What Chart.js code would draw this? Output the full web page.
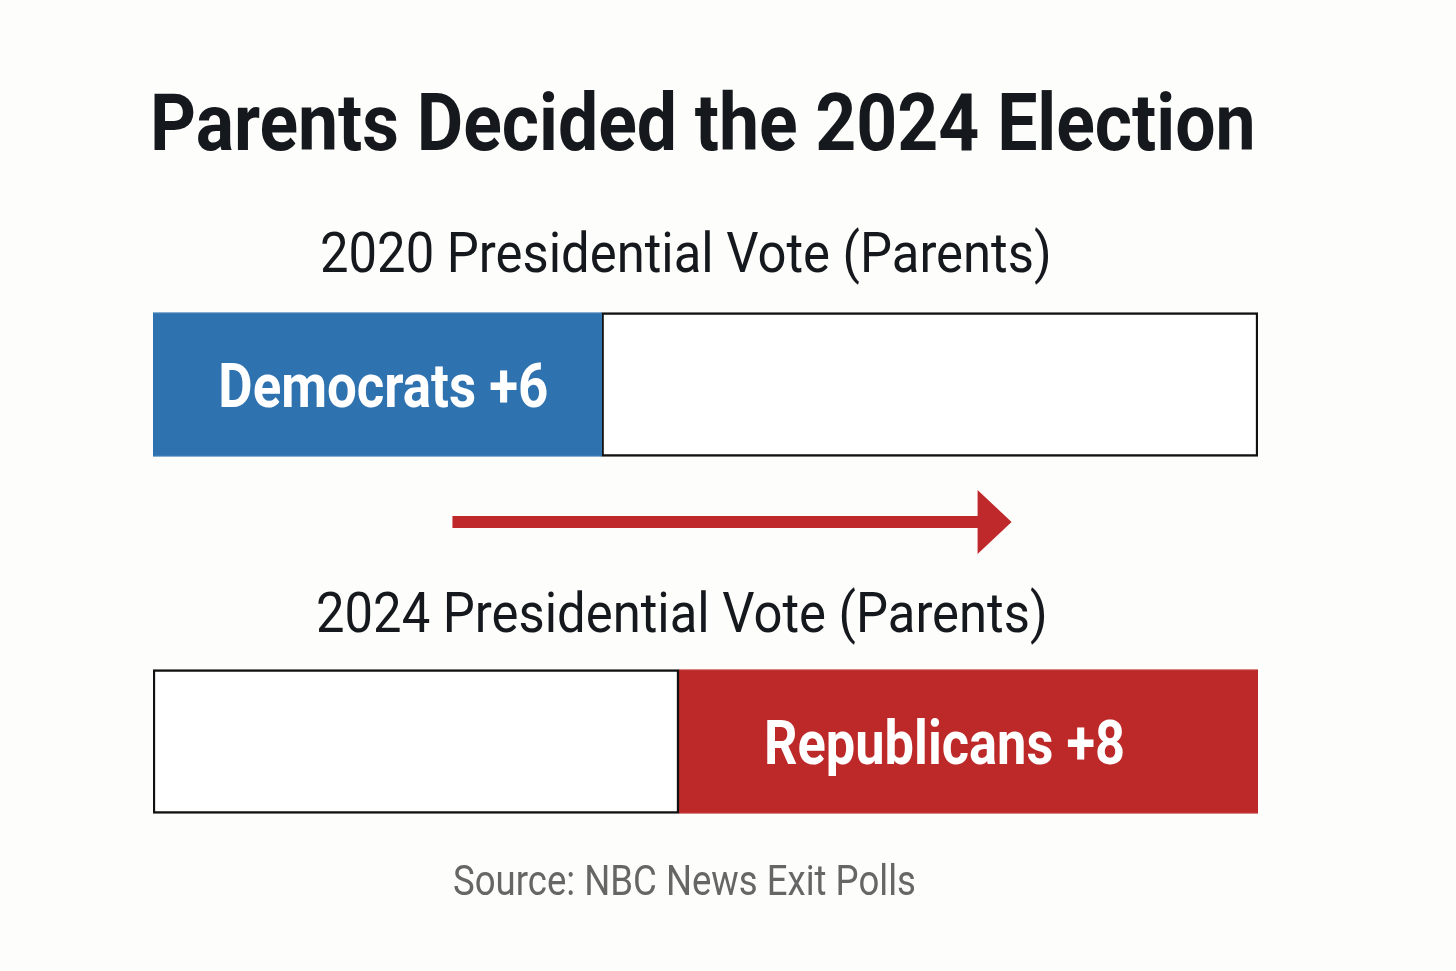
<!DOCTYPE html>
<html>
<head>
<meta charset="utf-8">
<script src="https://cdn.jsdelivr.net/npm/chart.js@4/dist/chart.umd.min.js"></script>
<style>
  html, body { margin: 0; padding: 0; background: #fdfdfb; }
  #wrap { position: relative; width: 1456px; height: 971px; overflow: hidden; }
  #chart { position: absolute; left: 0; top: 0; }
  .txt { position: absolute; white-space: nowrap; line-height: 1; font-family: Roboto, "DejaVu Sans Condensed", sans-serif; transform-origin: 0 0; }
  #title { font-weight: bold; font-size: 80px; color: #15181c; }
  .sub { font-size: 56px; color: #15181c; }
  #source { font-size: 42px; color: #666; }
</style>
</head>
<body>
<div id="wrap">
  <canvas id="chart" width="1456" height="971"></canvas>
  <div class="txt" id="title" data-x="150" data-w="1106" style="top:83px">Parents Decided the 2024 Election</div>
  <div class="txt sub" id="sub0" data-x="320" data-w="732" style="top:225px"></div>
  <div class="txt sub" id="sub1" data-x="316" data-w="732" style="top:585px"></div>
  <div class="txt" id="source" data-x="453" data-w="463" style="top:860px">Source: NBC News Exit Polls</div>
</div>
<script>
// data
var years = ['2020', '2024'];
var leftShare = [40.6, 47.6];
var rightShare = [59.4, 52.4];
var leftLabels = ['Democrats +6', ''];
var rightLabels = ['', 'Republicans +8'];
// arrow from/to (percent of bar), placed between the two bars
var arrowSpan = [27.1, 77.7];
var arrowAt = 0.385;

var blue = '#2e72b0';
var red = '#bd2828';
var white = '#ffffff';

years.forEach(function(y, i){
    document.getElementById('sub' + i).textContent = y + ' Presidential Vote (Parents)';
});

// squeeze each html text to the width it has in the picture
function fitText(){
    document.querySelectorAll('.txt').forEach(function(el){
        el.style.left = el.dataset.x + 'px';
        el.style.transform = 'none';
        var s = el.dataset.w / el.offsetWidth;
        el.style.transform = 'scaleX(' + s + ')';
    });
}
fitText();

var labelPlugin = {
    id: 'barLabels',
    afterDatasetsDraw: function(chart){
        var ctx = chart.ctx;
        var sets = [leftLabels, rightLabels];
        var widths = { 'Democrats +6': 330, 'Republicans +8': 361 };
        var shift = { 'Democrats +6': 6, 'Republicans +8': -24 };
        chart.data.datasets.forEach(function(ds, di){
            var meta = chart.getDatasetMeta(di);
            meta.data.forEach(function(bar, i){
                var txt = sets[di][i];
                if(!txt) return;
                var size = 62;
                ctx.save();
                ctx.font = 'bold ' + size + 'px Roboto, "DejaVu Sans Condensed", sans-serif';
                var w = ctx.measureText(txt).width;
                var s = widths[txt] / w;
                var cx = (bar.x + bar.base) / 2 + shift[txt];
                ctx.translate(cx, bar.y + size * 0.355);
                ctx.scale(s, 1);
                ctx.fillStyle = '#ffffff';
                ctx.textAlign = 'center';
                ctx.textBaseline = 'alphabetic';
                ctx.fillText(txt, 0, 0);
                ctx.restore();
            });
        });
    }
};

var arrowPlugin = {
    id: 'shiftArrow',
    afterDraw: function(chart){
        var ctx = chart.ctx;
        var xs = chart.scales.x, ys = chart.scales.y;
        var x0 = xs.getPixelForValue(arrowSpan[0]);
        var x1 = xs.getPixelForValue(arrowSpan[1]);
        var y = ys.getPixelForValue(arrowAt);
        var headLen = 34, headHalf = 32, shaft = 6;
        ctx.save();
        ctx.fillStyle = '#c0292b';
        ctx.beginPath();
        ctx.moveTo(x0, y - shaft);
        ctx.lineTo(x1 - headLen, y - shaft);
        ctx.lineTo(x1 - headLen, y - headHalf);
        ctx.lineTo(x1, y);
        ctx.lineTo(x1 - headLen, y + headHalf);
        ctx.lineTo(x1 - headLen, y + shaft);
        ctx.lineTo(x0, y + shaft);
        ctx.closePath();
        ctx.fill();
        ctx.restore();
    }
};

var target = document.getElementById('chart');
var chart = new Chart(target, {
    type: 'bar',
    data: {
        labels: years,
        datasets: [
            {
                label: 'left',
                data: leftShare,
                backgroundColor: [blue, white],
                borderColor: [blue, '#111'],
                borderWidth: [1, 2.5],
                borderSkipped: false,
                barThickness: 144
            },
            {
                label: 'right',
                data: rightShare,
                backgroundColor: [white, red],
                borderColor: ['#111', red],
                borderWidth: [2.5, 1],
                borderSkipped: false,
                barThickness: 144
            }
        ]
    },
    options: {
        indexAxis: 'y',
        responsive: false,
        animation: false,
        layout: { padding: { left: 153, right: 198, top: 206, bottom: 51 } },
        scales: {
            x: { stacked: true, min: 0, max: 100, display: false },
            y: { stacked: true, display: false }
        },
        plugins: {
            legend: { display: false },
            tooltip: { enabled: false }
        }
    },
    plugins: [labelPlugin, arrowPlugin]
});
</script>
</body>
</html>
